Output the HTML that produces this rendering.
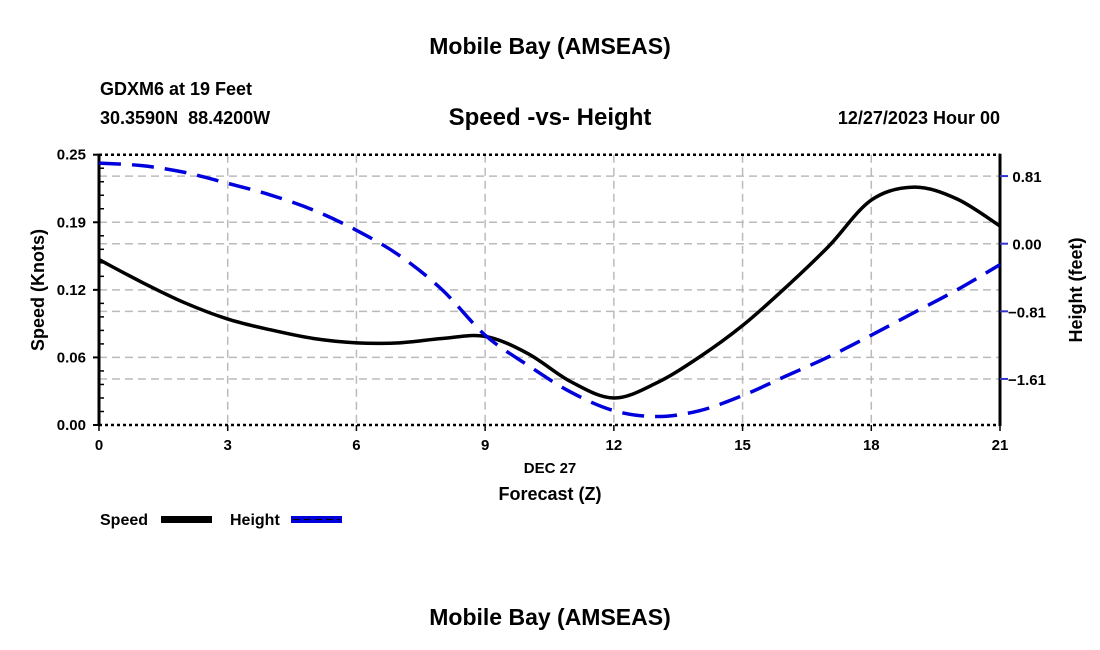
<!DOCTYPE html>
<html><head><meta charset="utf-8"><style>
html,body{margin:0;padding:0;background:#fff;}
svg{display:block;font-family:"Liberation Sans",sans-serif;font-weight:bold;}
</style></head><body>
<svg id="chart" width="1100" height="650" viewBox="0 0 1100 650">
<text x="550" y="54" font-size="23" text-anchor="middle">Mobile Bay (AMSEAS)</text>
<text x="100" y="95" font-size="18">GDXM6 at 19 Feet</text>
<text x="100" y="124" font-size="18">30.3590N&#160;&#160;88.4200W</text>
<text x="550" y="125" font-size="24" text-anchor="middle">Speed -vs- Height</text>
<text x="1000" y="124" font-size="18" text-anchor="end">12/27/2023 Hour 00</text>
<g id="grid"></g>
<g id="axes"></g>
<g id="series"></g>
<text x="550" y="473" font-size="15" text-anchor="middle">DEC 27</text>
<text x="550" y="500" font-size="18" text-anchor="middle">Forecast (Z)</text>
<text transform="translate(44,290) rotate(-90)" font-size="18" text-anchor="middle">Speed (Knots)</text>
<text transform="translate(1082,290) rotate(-90)" font-size="18" text-anchor="middle">Height (feet)</text>
<g>
<text x="100" y="525" font-size="16">Speed</text>
<rect x="161" y="516" width="51" height="7" fill="#000"/>
<text x="230" y="525" font-size="16">Height</text>
<rect x="291" y="516" width="51" height="7" fill="#0000dd"/>
<line x1="293" y1="519.5" x2="340" y2="519.5" stroke="#000" stroke-width="1" stroke-dasharray="7,4"/>
</g>
<text x="550" y="625" font-size="23" text-anchor="middle">Mobile Bay (AMSEAS)</text>
</svg>
<script>
const hours = [0,1,2,3,4,5,6,7,8,9,10,11,12,13,14,15,16,17,18,19,20,21];
const speedValues = [0.153,0.132,0.113,0.098,0.088,0.080,0.076,0.076,0.080,0.082,0.066,0.040,0.025,0.039,0.063,0.092,0.127,0.165,0.208,0.220,0.209,0.184];
const heightValues = [0.96,0.93,0.85,0.72,0.58,0.40,0.16,-0.14,-0.55,-1.09,-1.45,-1.77,-1.99,-2.06,-1.99,-1.81,-1.58,-1.35,-1.09,-0.82,-0.55,-0.25];
const xTicks = [0,3,6,9,12,15,18,21];
const speedTicks = [0,0.0625,0.125,0.1875,0.25];
const speedTickLabels = ["0.00","0.06","0.12","0.19","0.25"];
const heightTicks = [0.806,0,-0.806,-1.612];
const heightTickLabels = ["0.81","0.00","\u22120.81","\u22121.61"];

const L=99,R=1000,T=154.7,B=425;
const NS="http://www.w3.org/2000/svg";
const xS=h=>L+(h-0)/21*(R-L);
const yS=v=>B-v/0.25*(B-T);
const yH=v=>243.7-83.9*v;
function mk(tag,attrs,parent){const e=document.createElementNS(NS,tag);for(const k in attrs)e.setAttribute(k,attrs[k]);parent.appendChild(e);return e;}
const grid=document.getElementById('grid'),axes=document.getElementById('axes'),series=document.getElementById('series');
const gs={stroke:"#bbb","stroke-width":1.5,"stroke-dasharray":"8,5",fill:"none"};
xTicks.forEach(t=>{if(t>0&&t<21){const l=mk('line',Object.assign({x1:xS(t),x2:xS(t),y1:T,y2:B},gs),grid);

}});
speedTicks.forEach(t=>{if(t>0&&t<0.25){const l=mk('line',Object.assign({x1:L,x2:R,y1:yS(t),y2:yS(t)},gs),grid);

}});
heightTicks.forEach(t=>{const l=mk('line',Object.assign({x1:L,x2:R,y1:yH(t),y2:yH(t)},gs),grid);

});
[[L,T,R,T],[L,B,R,B]].forEach(c=>{const l=mk('line',{x1:c[0],y1:c[1],x2:c[2],y2:c[3],stroke:"#000","stroke-width":2.5,"stroke-dasharray":"3,3"},axes);

});
const la=mk('line',{x1:L,y1:T-1,x2:L,y2:B+1,stroke:"#000","stroke-width":3},axes);


const ra=mk('line',{x1:R,y1:T-1,x2:R,y2:B+1,stroke:"#000","stroke-width":3},axes);


speedTicks.forEach((t,i)=>{mk('line',{x1:L-6,x2:L,y1:yS(t),y2:yS(t),stroke:"#000","stroke-width":2},axes);
const tx=mk('text',{x:L-13,y:yS(t)+5,"font-size":15,"text-anchor":"end"},axes);tx.textContent=speedTickLabels[i];


if(i<speedTicks.length-1)for(let k=1;k<5;k++){const v=t+k*0.0125;mk('line',{x1:L,x2:L+5,y1:yS(v),y2:yS(v),stroke:"#000","stroke-width":1.5},axes);}});
heightTicks.forEach((t,i)=>{mk('line',{x1:R,x2:R+8,y1:yH(t),y2:yH(t),stroke:"#3333cc","stroke-width":2},axes);
const tx=mk('text',{x:1027,y:yH(t)+6,"font-size":15,"text-anchor":"middle"},axes);tx.textContent=heightTickLabels[i];

});
xTicks.forEach(t=>{mk('line',{x1:xS(t),x2:xS(t),y1:B,y2:B+6,stroke:"#000","stroke-width":1.5},axes);
const tx=mk('text',{x:xS(t),y:450,"font-size":15,"text-anchor":"middle"},axes);tx.textContent=String(t);

});
function path(pts){let d=`M${pts[0][0]},${pts[0][1]}`;for(let i=0;i<pts.length-1;i++){const p0=pts[Math.max(0,i-1)],p1=pts[i],p2=pts[i+1],p3=pts[Math.min(pts.length-1,i+2)];
d+=` C${p1[0]+(p2[0]-p0[0])/6},${p1[1]+(p2[1]-p0[1])/6} ${p2[0]-(p3[0]-p1[0])/6},${p2[1]-(p3[1]-p1[1])/6} ${p2[0]},${p2[1]}`;}return d;}
const sp=mk('path',{d:path(hours.map((h,i)=>[xS(h),yS(speedValues[i])])),stroke:"#000","stroke-width":3.5,fill:"none"},series);


const hp=mk('path',{d:path(hours.map((h,i)=>[xS(h),yH(heightValues[i])])),stroke:"#0000dd","stroke-width":3.5,fill:"none","stroke-dasharray":"22,11"},series);


</script>
</body></html>
